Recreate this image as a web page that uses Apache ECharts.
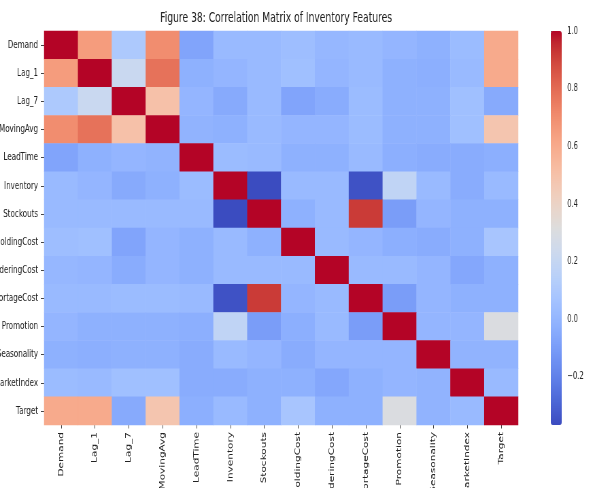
<!DOCTYPE html>
<html>
<head>
<meta charset="utf-8">
<script src="https://cdn.jsdelivr.net/npm/echarts@6/dist/echarts.min.js"></script>
<style>
  html, body { margin: 0; padding: 0; background: #fff; overflow: hidden; }
  /* the figure is laid out wide and narrowed horizontally to fit the page */
  #chart { width: 866px; height: 488px; transform: scaleX(0.68); transform-origin: 0 0; }
</style>
</head>
<body>
<div id="chart"></div>
<script>
// Feature names, in matrix order
const features = ['Demand', 'Lag_1', 'Lag_7', 'MovingAvg', 'LeadTime', 'Inventory', 'Stockouts',
  'HoldingCost', 'OrderingCost', 'ShortageCost', 'Promotion', 'Seasonality', 'MarketIndex', 'Target'];

// Pairwise correlation rows (symmetric)
const rowDemand       = [1.00, 0.65, 0.10, 0.70, -0.07, 0.02, 0.02, 0.04, 0.01, 0.02, 0.00, -0.02, 0.03, 0.60];
const rowLag1         = [0.65, 1.00, 0.22, 0.78, -0.02, 0.00, 0.02, 0.05, 0.00, 0.02, -0.02, -0.03, 0.02, 0.60];
const rowLag7         = [0.10, 0.22, 1.00, 0.50, 0.00, -0.05, 0.02, -0.07, -0.04, 0.03, -0.02, -0.02, 0.05, -0.05];
const rowMovingAvg    = [0.70, 0.78, 0.50, 1.00, -0.01, -0.02, 0.02, 0.00, 0.00, 0.03, -0.02, -0.02, 0.05, 0.48];
const rowLeadTime     = [-0.07, -0.02, 0.00, -0.01, 1.00, 0.03, 0.02, -0.02, -0.02, 0.02, -0.03, -0.04, -0.04, -0.03];
const rowInventory    = [0.02, 0.00, -0.05, -0.02, 0.03, 1.00, -0.37, 0.02, 0.02, -0.35, 0.18, 0.02, -0.04, 0.02];
const rowStockouts    = [0.02, 0.02, 0.02, 0.02, 0.02, -0.37, 1.00, -0.02, 0.02, 0.92, -0.10, 0.00, -0.02, -0.02];
const rowHoldingCost  = [0.04, 0.05, -0.07, 0.00, -0.02, 0.02, -0.02, 1.00, 0.02, 0.00, -0.03, -0.04, -0.02, 0.08];
const rowOrderingCost = [0.01, 0.00, -0.04, 0.00, -0.02, 0.02, 0.02, 0.02, 1.00, 0.02, 0.02, 0.00, -0.06, -0.02];
const rowShortageCost = [0.02, 0.02, 0.03, 0.03, 0.02, -0.35, 0.92, 0.00, 0.02, 1.00, -0.10, 0.00, -0.02, -0.02];
const rowPromotion    = [0.00, -0.02, -0.02, -0.02, -0.03, 0.18, -0.10, -0.03, 0.02, -0.10, 1.00, 0.00, 0.00, 0.30];
const rowSeasonality  = [-0.02, -0.03, -0.02, -0.02, -0.04, 0.02, 0.00, -0.04, 0.00, 0.00, 0.00, 1.00, -0.01, -0.01];
const rowMarketIndex  = [0.03, 0.02, 0.05, 0.05, -0.04, -0.04, -0.02, -0.02, -0.06, -0.02, 0.00, -0.01, 1.00, 0.02];
const rowTarget       = [0.60, 0.60, -0.05, 0.48, -0.03, 0.02, -0.02, 0.08, -0.02, -0.02, 0.30, -0.01, 0.02, 1.00];

const matrixRows = [rowDemand, rowLag1, rowLag7, rowMovingAvg, rowLeadTime, rowInventory, rowStockouts,
  rowHoldingCost, rowOrderingCost, rowShortageCost, rowPromotion, rowSeasonality, rowMarketIndex, rowTarget];

// Colour scale range and colour-bar ticks
const scaleMin = -0.367;
const scaleMax = 1.0;
const barTicks = [-0.2, 0.0, 0.2, 0.4, 0.6, 0.8, 1.0];

// coolwarm colour map samples
const coolwarm = [
  '#3b4cc0', '#445acc', '#4d68d7', '#5775e1', '#6282ea', '#6c8ef1', '#779af7', '#82a5fb',
  '#8db0fe', '#98b9ff', '#a3c2ff', '#aec9fd', '#b8d0f9', '#c2d5f4', '#ccd9ee', '#d5dbe6',
  '#dddddd', '#e5d8d1', '#ecd3c5', '#f1ccb9', '#f5c4ad', '#f7bba0', '#f7b194', '#f7a687',
  '#f49a7b', '#f18d6f', '#ec7f63', '#e57058', '#de604d', '#d55042', '#cb3e38', '#c0282f', '#b40426'
];

const cells = [];
matrixRows.forEach((row, r) => {
  row.forEach((v, c) => cells.push([c, r, v]));
});

const font = "'DejaVu Sans', sans-serif";

const chart = echarts.init(document.getElementById('chart'), null, { renderer: 'canvas', width: 866, height: 488 });
chart.setOption({
  backgroundColor: '#ffffff',
  animation: false,
  title: {
    text: 'Figure 38: Correlation Matrix of Inventory Features',
    left: 406, top: 11, textAlign: 'center', padding: 0,
    textStyle: { fontFamily: font, fontSize: 13.5, fontWeight: 'normal', color: '#222' }
  },
  grid: [
    { left: 65, top: 31, width: 697, height: 394, outerBoundsMode: 'none', containLabel: false },
    { left: 810, top: 31, width: 16, height: 394, outerBoundsMode: 'none', containLabel: false }
  ],
  xAxis: [
    {
      type: 'category', data: features, gridIndex: 0, position: 'bottom',
      axisLine: { show: false },
      axisTick: { show: true, length: 3.5, alignWithLabel: true, lineStyle: { color: '#444' } },
      axisLabel: { rotate: 90, interval: 0, margin: 7, fontFamily: font, fontSize: 10.5, color: '#222' },
      splitLine: { show: false }
    },
    { type: 'value', gridIndex: 1, show: false, min: 0, max: 1 }
  ],
  yAxis: [
    {
      type: 'category', data: features, gridIndex: 0, inverse: true,
      axisLine: { show: false },
      axisTick: { show: true, length: 5, alignWithLabel: true, lineStyle: { color: '#444' } },
      axisLabel: { interval: 0, margin: 9, fontFamily: font, fontSize: 10.5, color: '#222' },
      splitLine: { show: false }
    },
    {
      type: 'value', gridIndex: 1, position: 'right', min: scaleMin, max: scaleMax,
      axisLine: { show: false },
      splitLine: { show: false },
      axisTick: { show: true, length: 5, customValues: barTicks, lineStyle: { color: '#444' } },
      axisLabel: {
        customValues: barTicks, margin: 8, fontFamily: font, fontSize: 10, color: '#222',
        formatter: v => (v < 0 ? '\u22120.2' : v.toFixed(1))
      }
    }
  ],
  visualMap: {
    type: 'continuous', seriesIndex: 0,
    min: scaleMin, max: scaleMax,
    calculable: false, realtime: false,
    left: 810, top: 31, padding: 0, itemWidth: 16, itemHeight: 394,
    text: ['', ''], showLabel: false,
    inRange: { color: coolwarm },
    hoverLink: false
  },
  series: [
    {
      type: 'heatmap', xAxisIndex: 0, yAxisIndex: 0, data: cells,
      itemStyle: { borderWidth: 0 },
      emphasis: { disabled: true }
    },
    {
      type: 'line', xAxisIndex: 1, yAxisIndex: 1, data: [], silent: true
    }
  ]
});
</script>
</body>
</html>
